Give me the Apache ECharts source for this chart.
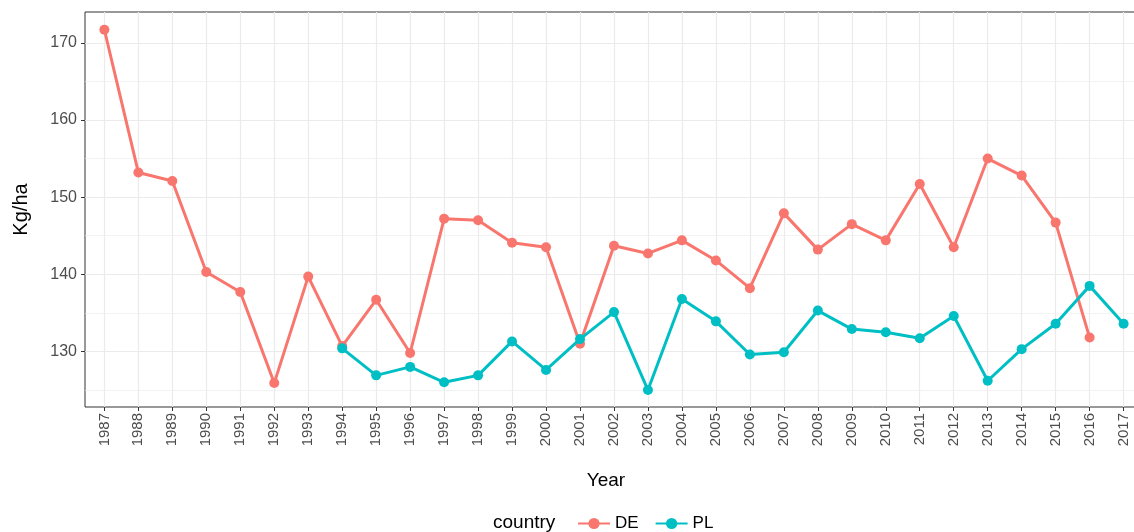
<!DOCTYPE html>
<html>
<head>
<meta charset="utf-8">
<script src="https://cdn.jsdelivr.net/npm/echarts@6/dist/echarts.min.js"></script>
<style>
  html, body { margin: 0; padding: 0; background: #fff; }
  #chart { width: 1134px; height: 532px; }
</style>
</head>
<body>
<div id="chart"></div>
<script>
// values
const years = [1987, 1988, 1989, 1990, 1991, 1992, 1993, 1994, 1995, 1996,
  1997, 1998, 1999, 2000, 2001, 2002, 2003, 2004, 2005, 2006,
  2007, 2008, 2009, 2010, 2011, 2012, 2013, 2014, 2015, 2016, 2017];

const deValues = [171.7, 153.2, 152.1, 140.3, 137.7, 125.9, 139.7, 130.7, 136.7, 129.8,
  147.2, 147.0, 144.1, 143.5, 131.0, 143.7, 142.7, 144.4, 141.8, 138.2,
  147.9, 143.2, 146.5, 144.4, 151.7, 143.5, 155.0, 152.8, 146.7, 131.8, null];

const plValues = [null, null, null, null, null, null, null, 130.4, 126.9, 128.0,
  126.0, 126.9, 131.3, 127.6, 131.6, 135.1, 125.0, 136.8, 133.9, 129.6,
  129.9, 135.3, 132.9, 132.5, 131.7, 134.6, 126.2, 130.3, 133.6, 138.5, 133.6];

const yMajor = [130, 140, 150, 160, 170];
const yMinor = [125, 135, 145, 155, 165];

const FONT = "Liberation Sans, Arial, sans-serif";
const gridColor = "#ebebeb";

function pairs(vals) {
  return years.map((y, i) => [y, vals[i]]).filter((p) => p[1] != null);
}

const chart = echarts.init(document.getElementById("chart"));

const gridLines = []
  .concat(yMinor.map((v) => ({ yAxis: v, lineStyle: { width: 0.6 } })))
  .concat(yMajor.map((v) => ({ yAxis: v, lineStyle: { width: 1.2 } })))
  .concat(years.map((y) => ({ xAxis: y, lineStyle: { width: 1.2 } })));

chart.setOption({
  animation: false,
  textStyle: { fontFamily: FONT },
  title: {
    text: "country",
    left: 488,
    top: 508,
    textStyle: { fontFamily: FONT, fontSize: 19, fontWeight: "normal", color: "#000" }
  },
  legend: {
    data: ["DE", "PL"],
    left: 572,
    top: 510,
    itemWidth: 32,
    itemHeight: 14,
    itemGap: 16,
    textStyle: { fontFamily: FONT, fontSize: 17, color: "#000" }
  },
  grid: {
    left: 85,
    top: 12,
    width: 1060,
    height: 395,
    outerBoundsMode: "none",
    containLabel: false,
    show: true,
    borderColor: "#333",
    borderWidth: 1,
    backgroundColor: "#fff"
  },
  xAxis: {
    type: "value",
    min: 1986.43,
    max: 2017.63,
    name: "Year",
    nameLocation: "middle",
    nameGap: 64,
    nameTextStyle: { fontFamily: FONT, fontSize: 19, color: "#000", padding: [0, 18, 0, 0] },
    axisLine: { show: false },
    axisTick: { show: true, customValues: years, length: 4, lineStyle: { color: "#333" } },
    axisLabel: {
      customValues: years,
      rotate: 90,
      margin: 6,
      fontSize: 15,
      color: "#4d4d4d",
      formatter: (v) => String(v)
    },
    splitLine: { show: false }
  },
  yAxis: {
    type: "value",
    min: 122.8,
    max: 174.0,
    name: "Kg/ha",
    nameLocation: "middle",
    nameGap: 54,
    nameTextStyle: { fontFamily: FONT, fontSize: 20, color: "#000" },
    axisLine: { show: false },
    axisTick: { show: true, customValues: yMajor, length: 4, lineStyle: { color: "#333" } },
    axisLabel: { customValues: yMajor, margin: 8, fontSize: 16, color: "#4d4d4d" },
    splitLine: { show: false }
  },
  series: [
    {
      name: "grid",
      type: "line",
      data: [],
      z: 0,
      silent: true,
      markLine: {
        silent: true,
        z: 0,
        symbol: ["none", "none"],
        label: { show: false },
        lineStyle: { color: gridColor, type: "solid" },
        data: gridLines
      }
    },
    {
      name: "DE",
      type: "line",
      data: pairs(deValues),
      symbol: "circle",
      symbolSize: 10,
      lineStyle: { width: 3, color: "#F8766D" },
      itemStyle: { color: "#F8766D" },
      z: 3
    },
    {
      name: "PL",
      type: "line",
      data: pairs(plValues),
      symbol: "circle",
      symbolSize: 10,
      lineStyle: { width: 3, color: "#00BFC4" },
      itemStyle: { color: "#00BFC4" },
      z: 4
    }
  ]
});
</script>
</body>
</html>
